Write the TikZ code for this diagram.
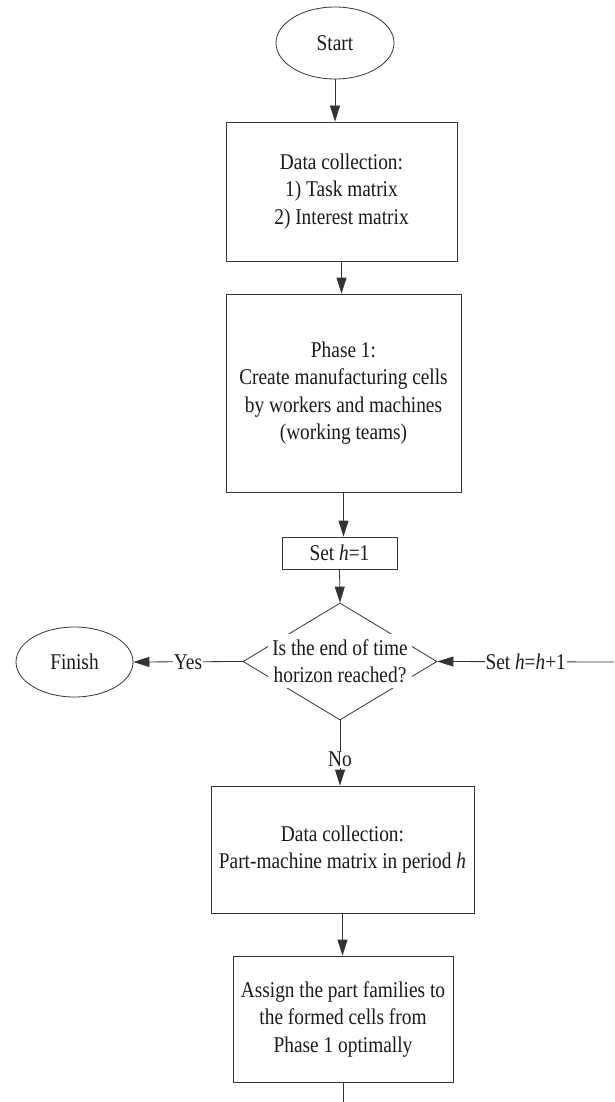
\documentclass[tikz,border=0pt]{standalone}
\usepackage{fontspec}
\setmainfont{Liberation Serif}[FakeStretch=0.86]
\usetikzlibrary{shapes.geometric,arrows.meta}
\definecolor{ln}{gray}{0.2}
\tikzset{
  txt/.style={font=\fontsize{22.5}{27.5}\selectfont, text=black!90},
  box/.style={txt, draw=ln, line width=0.8pt, rectangle, align=center, inner sep=0pt},
  oval/.style={txt, draw=ln, line width=0.8pt, ellipse, inner sep=0pt},
  arr/.style={draw=ln, line width=0.8pt, -{Triangle[length=16pt,width=10pt]}},
  plain/.style={draw=ln, line width=0.8pt},
  lbl/.style={txt, fill=white, inner sep=1pt},
  qtxt/.style={txt, fill=white, align=center, inner xsep=4pt, inner ysep=5pt}
}
\begin{document}
\begin{tikzpicture}[x=1pt,y=-1pt]
\useasboundingbox (0,0) rectangle (614,1102);
\node[oval, minimum width=118pt, minimum height=72pt] (start) at (335,43) {Start};
\node[box, minimum width=231pt, minimum height=139pt] (d1) at (341.5,191.5)
  {Data collection:\\ 1) Task matrix\\ 2) Interest matrix};
\node[box, minimum width=235pt, minimum height=198pt] (p1) at (343.5,393)
  {Phase 1:\\ Create manufacturing cells\\ by workers and machines\\ (working teams)};
\node[box, minimum width=115pt, minimum height=32pt] (set1) at (339.5,553) {Set \textit{h}=1};
\node[draw=ln, line width=0.8pt, diamond, minimum width=194pt, minimum height=117pt, inner sep=0pt] (dia) at (340,661.5) {};
\node[qtxt] (q) at (340,661) {Is the end of time\\ horizon reached?};
\node[oval, minimum width=117pt, minimum height=70pt] (finish) at (74.5,662) {Finish};
\node[box, minimum width=263pt, minimum height=127pt] (d2) at (342.5,849.5)
  {Data collection:\\ Part-machine matrix in period \textit{h}};
\node[box, minimum width=220pt, minimum height=126pt] (d3) at (343,1019)
  {Assign the part families to\\ the formed cells from\\ Phase 1 optimally};
\coordinate (loopin) at (614,662);
\coordinate (outend) at (343,1102);

\draw[arr] (start.south) -- (start.south |- d1.north);
\draw[arr] (d1.south) -- (d1.south |- p1.north);
\draw[arr] (p1.south) -- (p1.south |- set1.north);
\draw[arr] (set1.south) -- (dia.north);
\draw[arr] (dia.west) -- (finish.east) node[pos=0.5, lbl] {Yes};
\draw[arr] (loopin) -- (dia.east) node[pos=0.5, lbl] {Set \textit{h}=\textit{h}+1};
\draw[arr] (dia.south) -- (dia.south |- d2.north) node[pos=0.6, lbl] {No};
\draw[arr] (d2.south) -- (d2.south |- d3.north);
\draw[plain] (d3.south) -- (outend);
\end{tikzpicture}
\end{document}
